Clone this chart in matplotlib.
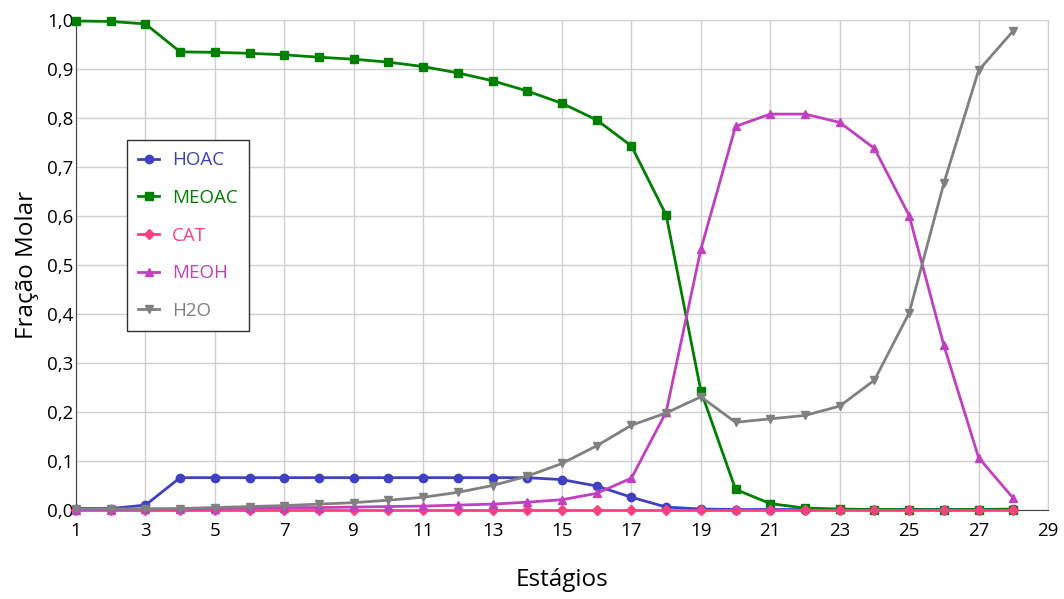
import numpy as np
import matplotlib.pyplot as plt
from matplotlib.ticker import FuncFormatter

plt.rcParams['font.family'] = ['Open Sans', 'DejaVu Sans']

stages = np.arange(1, 29)

hoac = [0.003, 0.003, 0.010, 0.066, 0.066, 0.066, 0.066, 0.066, 0.066, 0.066,
        0.066, 0.066, 0.066, 0.066, 0.062, 0.049, 0.026, 0.006, 0.002, 0.001,
        0.001, 0.001, 0.001, 0.001, 0.001, 0.001, 0.001, 0.002]
meoac = [0.998, 0.997, 0.992, 0.935, 0.934, 0.932, 0.929, 0.924, 0.920, 0.914,
         0.905, 0.892, 0.876, 0.855, 0.830, 0.796, 0.743, 0.602, 0.243, 0.042,
         0.013, 0.004, 0.002, 0.001, 0.001, 0.001, 0.001, 0.001]
cat = [0.001] * 28
meoh = [0.001, 0.001, 0.002, 0.002, 0.003, 0.004, 0.005, 0.005, 0.006, 0.007,
        0.008, 0.010, 0.012, 0.016, 0.021, 0.034, 0.065, 0.200, 0.532, 0.783,
        0.808, 0.808, 0.791, 0.738, 0.601, 0.336, 0.107, 0.024]
h2o = [0.002, 0.002, 0.002, 0.003, 0.005, 0.007, 0.009, 0.012, 0.015, 0.020,
       0.026, 0.036, 0.050, 0.069, 0.095, 0.131, 0.173, 0.198, 0.231, 0.179,
       0.186, 0.193, 0.212, 0.265, 0.402, 0.667, 0.897, 0.978]

names = ['HOAC', 'MEOAC', 'CAT', 'MEOH', 'H2O']
colors = ['#4040c0', '#008000', '#ff4080', '#c040c0', '#808080']
markers = ['o', 's', 'D', '^', 'v']
series = [hoac, meoac, cat, meoh, h2o]

fig = plt.figure(figsize=(10.64, 5.99), dpi=100)
ax = fig.add_axes([76 / 1064, 89 / 599, 972 / 1064, 490 / 599])

for s, name, c, m in zip(series, names, colors, markers):
    ax.plot(stages, s, color=c, marker=m, markersize=6 if m != 'D' else 5.5,
            linewidth=2, label=name, clip_on=False, zorder=3)

ax.set_xlim(1, 29)
ax.set_ylim(0, 1.0)
ax.set_xticks(np.arange(1, 30, 2))
ax.set_yticks(np.arange(0, 1.01, 0.1))
ax.yaxis.set_major_formatter(FuncFormatter(lambda v, p: f'{v:.1f}'.replace('.', ',')))
ax.grid(True, color='#d0d0d0', linewidth=1)
ax.set_axisbelow(True)
for sp in ['top', 'right']:
    ax.spines[sp].set_color('#d0d0d0')
for sp in ['left', 'bottom']:
    ax.spines[sp].set_color('#404040')
ax.tick_params(labelsize=13.5, length=0)
ax.tick_params(axis='x', pad=9)
ax.tick_params(axis='y', pad=2)

ax.set_xlabel('Estágios', fontsize=17.5, labelpad=20)
ax.set_ylabel('Fração Molar', fontsize=17.5, labelpad=6)

leg = ax.legend(loc='upper left', bbox_to_anchor=(0.0525, 0.755), fontsize=13.5,
                fancybox=False, framealpha=1, edgecolor='#303030',
                handlelength=1.1, handletextpad=0.7, labelspacing=1.05,
                borderpad=0.6, borderaxespad=0)
for t, c in zip(leg.get_texts(), colors):
    t.set_color(c)

fig.savefig('out.png', dpi=100)
